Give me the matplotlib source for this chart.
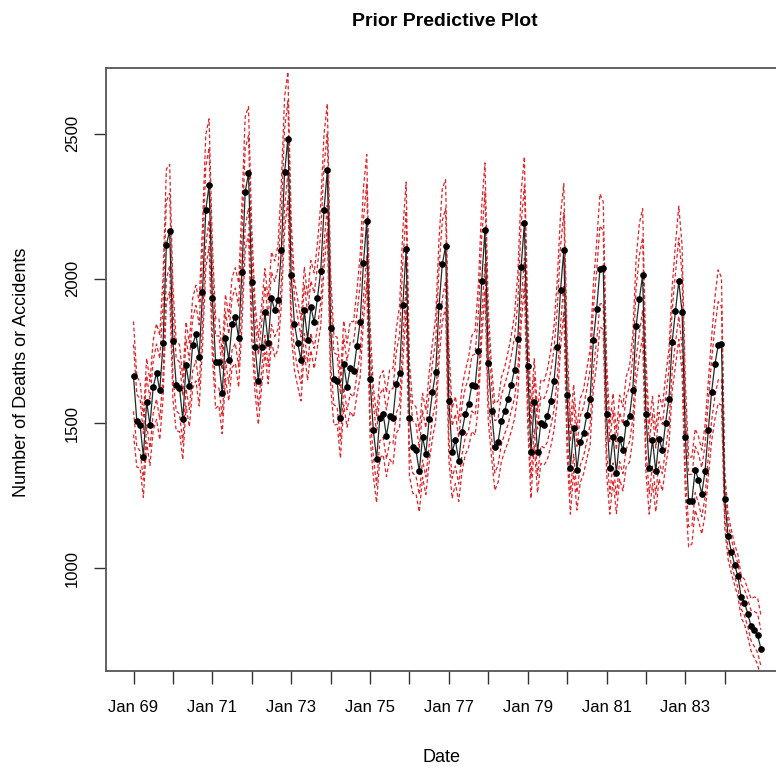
import matplotlib
matplotlib.use("Agg")
import matplotlib.pyplot as plt
import numpy as np

years = list(range(1969, 1985))
observed = [
    [1662,1510,1495,1385,1575,1495,1626,1674,1614,1777,2117,2164],
    [1783,1634,1622,1515,1700,1628,1771,1807,1730,1952,2236,2321],
    [1932,1712,1712,1605,1795,1718,1843,1867,1795,2024,2298,2363],
    [1988,1765,1646,1765,1884,1777,1932,1890,1926,2099,2367,2483],
    [2012,1843,1777,1718,1890,1789,1902,1849,1932,2027,2238,2373],
    [1829,1654,1647,1520,1704,1627,1692,1681,1766,1850,2052,2198],
    [1654,1478,1377,1520,1532,1457,1526,1520,1636,1675,1909,2103],
    [1520,1419,1407,1335,1454,1395,1514,1607,1678,1904,2049,2111],
    [1576,1401,1443,1371,1472,1532,1567,1633,1630,1750,1990,2169],
    [1707,1544,1419,1437,1508,1544,1585,1633,1686,1790,2038,2190],
    [1698,1401,1573,1401,1502,1496,1526,1579,1645,1764,1960,2097],
    [1597,1347,1484,1341,1436,1466,1528,1585,1788,1895,2032,2035],
    [1532,1347,1454,1329,1448,1407,1502,1526,1615,1835,1930,2011],
    [1532,1347,1443,1335,1448,1407,1502,1585,1782,1889,1990,1885],
    [1454,1234,1234,1341,1305,1258,1335,1478,1609,1704,1770,1773],
    [1239,1112,1058,1012,973,900,882,844,800,786,769,723],
]
# predictive band offsets by calendar month
upper_off = [190,150,150,140,150,150,160,170,190,230,260,230]
lower_off = [200,160,150,140,140,140,150,160,170,190,200,210]
inner_upper_off = [110,90,90,80,90,90,90,100,110,130,150,130]
inner_lower_off = [120,90,90,80,80,80,90,90,100,110,120,120]
tail_scale = 0.5  # last year band narrower

t = np.array([y + m/12 for y in years for m in range(12)])
v = np.array([x for row in observed for x in row], float)
scale = np.array([tail_scale if y == 1984 else 1.0 for y in years for m in range(12)])
uo = np.tile(upper_off, len(years)) * scale
lo = np.tile(lower_off, len(years)) * scale
iuo = np.tile(inner_upper_off, len(years)) * scale
ilo = np.tile(inner_lower_off, len(years)) * scale

plt.rcParams['font.family'] = ['Liberation Sans', 'DejaVu Sans']
fig = plt.figure(figsize=(7.76, 7.76), dpi=100)
ax = fig.add_axes([0.137, 0.135, 0.863, 0.778])

for band, sign in [(uo, 1), (lo, -1), (iuo, 1), (ilo, -1)]:
    ax.plot(t, v + sign*band, color='#e0242a', ls=(0, (3, 2)), lw=0.9, clip_on=True)
ax.plot(t, v, color='#1f2a26', lw=0.9)
ax.plot(t, v, 'o', color='black', ms=3.8)

ax.set_xlim(1968.31, 1985.3)
ax.set_ylim(645, 2728)
ax.set_xticks(list(range(1969, 1985)))
ax.set_xticklabels([f"Jan {str(y)[2:]}" if (y - 1969) % 2 == 0 else "" for y in range(1969, 1985)], fontsize=12)
ax.set_yticks([1000, 1500, 2000, 2500])
ax.set_yticklabels(['1000', '1500', '2000', '2500'], rotation=90, va='center', fontsize=12)
ax.tick_params(length=9, color='#333333', width=1)
ax.tick_params(axis='x', pad=12)
ax.tick_params(axis='y', pad=10)
ax.spines['right'].set_visible(False)
for s in ax.spines.values():
    s.set_color('#555555')
    s.set_linewidth(1.3)
ax.set_xlabel('Date', fontsize=13, labelpad=24)
fig.text(0.028, 0.52, 'Number of Deaths or Accidents', rotation=90, ha='center', va='center', fontsize=13)
fig.text(0.573, 0.972, 'Prior Predictive Plot', ha='center', va='center', fontsize=14, fontweight='bold')
fig.savefig('out.png', dpi=100)
